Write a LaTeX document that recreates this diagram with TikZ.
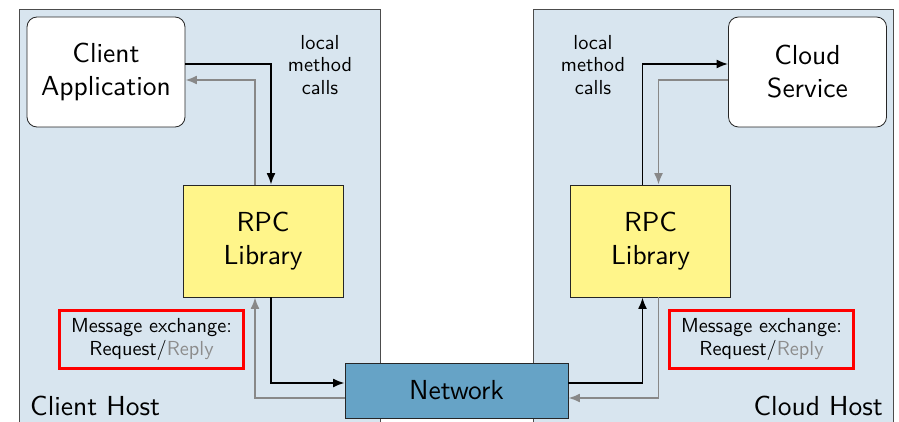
\documentclass[tikz,border=0pt]{standalone}
\usepackage{fontspec}
\newfontfamily\lmsten{lmsans10-regular.otf}
\usetikzlibrary{arrows.meta}
\definecolor{hostblue}{RGB}{216,229,239}
\definecolor{rpcyellow}{RGB}{255,245,138}
\definecolor{netblue}{RGB}{102,163,198}
\definecolor{arrgray}{RGB}{136,136,136}
\definecolor{replygray}{RGB}{140,140,140}
\begin{document}
\begin{tikzpicture}[x=1pt,y=-1pt,
  font=\lmsten,
  big/.style={font=\lmsten\fontsize{27.5}{33}\selectfont},
  small/.style={font=\lmsten\fontsize{20.3}{22.3}\selectfont},
  host/.style={draw=black!70,fill=hostblue,line width=0.8pt},
  appbox/.style={draw=black!85,fill=white,rounded corners=10pt,line width=0.8pt,
    minimum width=158pt,minimum height=110pt,big,align=center,inner sep=0pt},
  rpcbox/.style={draw=black!85,fill=rpcyellow,line width=0.8pt,
    minimum width=160pt,minimum height=112pt,big,align=center,inner sep=0pt},
  netbox/.style={draw=black!85,fill=netblue,line width=0.8pt,
    minimum width=223pt,minimum height=55pt,big,inner sep=0pt},
  msgbox/.style={draw=red,line width=3pt,minimum width=184pt,minimum height=58pt,
    small,align=center,inner sep=0pt},
  blk/.style={draw=black,line width=1.9pt,-{Latex[length=11.5pt,width=9pt]}},
  gry/.style={draw=arrgray,line width=1.9pt,-{Latex[length=11.5pt,width=9pt]}}
]
\useasboundingbox (0,0) rectangle (899,422);
\clip (0,0) rectangle (899,422);
\fill[white] (0,0) rectangle (899,422);
% hosts
\draw[host] (19,9) rectangle (380,440);
\draw[host] (533,9) rectangle (893,440);
% nodes
\node[appbox] (client) at (106,72) {Client\\Application};
\node[appbox] (cloud) at (807.5,72) {Cloud\\Service};
\node[rpcbox] (lrpc) at (263,241) {RPC\\Library};
\node[rpcbox] (rrpc) at (650.5,241) {RPC\\Library};
\node[netbox] (net) at (456.5,390.5) {Network};
\node[msgbox] (lmsg) at (151.5,339.5) {Message exchange:\\Request/\textcolor{replygray}{Reply}};
\node[msgbox] (rmsg) at (761.5,339.5) {Message exchange:\\Request/\textcolor{replygray}{Reply}};
\node[small,align=center] (lcalls) at (320,65) {local\\method\\calls};
\node[small,align=center] (rcalls) at (593,65) {local\\method\\calls};
\node[big,anchor=base west,inner sep=0pt] (lhostlbl) at (30,415) {Client Host};
\node[big,anchor=base east,inner sep=0pt] (rhostlbl) at (883,415) {Cloud Host};
% connectors, client side
\draw[blk] ([yshift=8pt]client.east) -| ([xshift=8pt]lrpc.north);
\draw[gry] ([xshift=-8pt]lrpc.north) |- ([yshift=-8pt]client.east);
\draw[blk] ([xshift=8pt]lrpc.south) |- ([yshift=7.5pt]net.west);
\draw[gry] ([yshift=-7.5pt]net.west) -| ([xshift=-8pt]lrpc.south);
% connectors, cloud side
\draw[blk] ([yshift=7.5pt]net.east) -| ([xshift=-8pt]rrpc.south);
\draw[gry] ([xshift=8pt]rrpc.south) |- ([yshift=-7.5pt]net.east);
\draw[blk] ([xshift=-8pt]rrpc.north) |- ([yshift=8pt]cloud.west);
\draw[gry] ([yshift=-8pt]cloud.west) -| ([xshift=8pt]rrpc.north);
\end{tikzpicture}
\end{document}
